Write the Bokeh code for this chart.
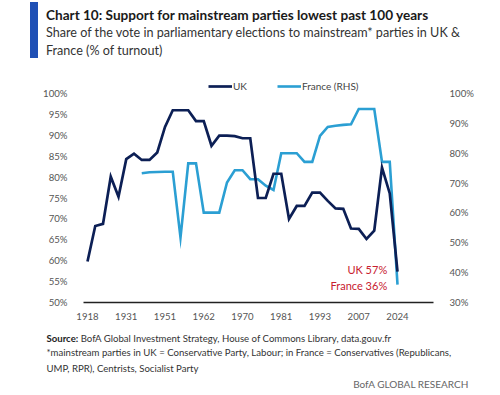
from bokeh.plotting import figure
from bokeh.models import (Range1d, LinearAxis, FixedTicker, Label, Legend, LegendItem,
                          ColumnDataSource, PrintfTickFormatter, Div)
from bokeh.layouts import column
from bokeh.embed import file_html
from bokeh.resources import INLINE

nan = float("nan")

# x-axis labels (every 5th election point)
tick_labels = ["1918", "1931", "1951", "1962", "1970", "1981", "1993", "2007", "2024"]

# UK mainstream share (% of turnout), left axis
uk_share = [59.8, 68.3, 68.8, 80.1, 75.3, 84.3, 85.6, 84.1, 84.1, 85.9,
            92.0, 96.0, 96.0, 96.0, 93.4, 93.4, 87.5, 89.9, 89.9, 89.8,
            89.3, 89.3, 75.0, 75.0, 80.8, 80.8, 70.0, 73.1, 73.1, 76.3,
            76.3, 74.3, 72.5, 72.4, 67.7, 67.6, 65.2, 67.2, 82.3, 76.1,
            57.4]

# France mainstream share (% of turnout), right axis
france_share = [nan, nan, nan, nan, nan, nan, nan, 73.3, 73.6, 73.7,
                73.8, 73.8, 51.8, 76.6, 76.6, 60.1, 60.1, 60.1, 70.2, 74.3,
                74.3, 71.3, 71.3, 69.1, 67.7, 80.0, 80.0, 80.0, 77.1, 77.1,
                85.8, 88.8, 89.2, 89.5, 89.7, 94.8, 94.8, 94.8, 77.1, 77.1,
                36.0]

left_ticks = [50, 55, 60, 65, 70, 75, 80, 85, 90, 95, 100]
right_ticks = [30, 40, 50, 60, 70, 80, 90, 100]

title = "Chart 10: Support for mainstream parties lowest past 100 years"
subtitle1 = "Share of the vote in parliamentary elections to mainstream* parties in UK &amp;"
subtitle2 = "France (% of turnout)"
source_txt = "BofA Global Investment Strategy, House of Commons Library, data.gouv.fr"
note1 = "*mainstream parties in UK = Conservative Party, Labour; in France = Conservatives (Republicans,"
note2 = "UMP, RPR), Centrists, Socialist Party"
brand = "BofA GLOBAL RESEARCH"

UK_COL = "#0c1f55"
FR_COL = "#2b9fd3"
RED = "#c8202f"
AXIS_TXT = "#555555"
FONT = "Lato"

n = len(uk_share)
src = ColumnDataSource(dict(i=list(range(n)), uk=uk_share, fr=france_share))

# ---------------- header ----------------
header_html = f"""
<div style="position:relative;width:500px;height:70px;font-family:{FONT};">
  <div style="position:absolute;left:30px;top:2px;width:7.5px;height:56px;background:#1f50b5;"></div>
  <div style="position:absolute;left:46px;top:6px;line-height:18px;font-size:13.6px;font-weight:bold;color:#1a1a1a;white-space:nowrap;">{title}</div>
  <div style="position:absolute;left:46px;top:24px;line-height:18px;font-size:12.6px;color:#333333;white-space:nowrap;">{subtitle1}</div>
  <div style="position:absolute;left:46px;top:42px;line-height:18px;font-size:12.6px;color:#333333;white-space:nowrap;">{subtitle2}</div>
</div>
"""
header = Div(text=header_html, width=500, height=70, margin=0)

# ---------------- chart ----------------
p = figure(width=500, height=255, output_backend="svg", toolbar_location=None,
           x_range=Range1d(-0.516, 44.645), y_range=Range1d(50, 103.59),
           min_border=0, min_border_left=83, min_border_right=67,
           min_border_top=8, min_border_bottom=23, margin=0)
p.extra_y_ranges = {"fr": Range1d(30, 105.02)}
p.outline_line_color = None
p.xgrid.visible = False
p.ygrid.visible = False
p.background_fill_color = "white"
p.border_fill_color = "white"

xa = p.xaxis[0]
tick_pos = [k * 5 for k in range(len(tick_labels))]
xa.ticker = FixedTicker(ticks=tick_pos)
xa.major_label_overrides = {t: lab for t, lab in zip(tick_pos, tick_labels)}
xa.axis_line_color = "#222222"
xa.axis_line_width = 1.3
xa.major_tick_line_color = None
xa.minor_tick_line_color = None
xa.major_label_standoff = 4
xa.major_label_text_font = FONT
xa.major_label_text_font_size = "9.6px"
xa.major_label_text_color = AXIS_TXT

ya = p.yaxis[0]
ya.ticker = FixedTicker(ticks=left_ticks)
ya.formatter = PrintfTickFormatter(format="%d%%")
ya.axis_line_color = None
ya.major_tick_line_color = None
ya.minor_tick_line_color = None
ya.major_label_standoff = 10
ya.major_label_text_font = FONT
ya.major_label_text_font_size = "9.6px"
ya.major_label_text_color = AXIS_TXT

ra = LinearAxis(y_range_name="fr", ticker=FixedTicker(ticks=right_ticks),
                formatter=PrintfTickFormatter(format="%d%%"))
ra.axis_line_color = None
ra.major_tick_line_color = None
ra.minor_tick_line_color = None
ra.major_label_standoff = 10
ra.major_label_text_font = FONT
ra.major_label_text_font_size = "9.6px"
ra.major_label_text_color = AXIS_TXT
p.add_layout(ra, "right")

r_fr = p.line("i", "fr", source=src, y_range_name="fr", line_color=FR_COL,
              line_width=2.6, line_join="miter")
r_uk = p.line("i", "uk", source=src, line_color=UK_COL, line_width=2.7,
              line_join="miter")

legend = Legend(items=[LegendItem(label="UK", renderers=[r_uk]),
                       LegendItem(label="France (RHS)", renderers=[r_fr])],
                orientation="horizontal", location=(125, 210))
legend.label_text_font = FONT
legend.label_text_font_size = "10px"
legend.label_text_color = "#444444"
legend.glyph_width = 24
legend.glyph_height = 12
legend.label_height = 12
legend.label_standoff = 1
legend.spacing = 24
legend.padding = 0
legend.margin = 0
legend.border_line_color = None
legend.background_fill_alpha = 0
p.add_layout(legend, "center")

for s, yy in (("UK 57%", 199), ("France 36%", 215)):
    p.add_layout(Label(x=386.7, y=yy, x_units="canvas", y_units="canvas", text=s,
                       text_font=FONT, text_font_size="11px", text_color=RED,
                       text_align="right", text_baseline="middle"))

# ---------------- footer ----------------
footer_html = f"""
<div style="position:relative;width:500px;height:70px;font-family:{FONT};font-size:9.6px;color:#333333;">
  <div style="position:absolute;left:46.5px;top:7px;line-height:14px;white-space:nowrap;"><b style="color:#222222;">Source:</b> {source_txt}</div>
  <div style="position:absolute;left:46.5px;top:21.3px;line-height:14px;white-space:nowrap;">{note1}</div>
  <div style="position:absolute;left:46.5px;top:37.3px;line-height:14px;white-space:nowrap;">{note2}</div>
  <div style="position:absolute;right:31.7px;top:52px;line-height:14px;white-space:nowrap;color:#666666;font-size:10px;">{brand}</div>
</div>
"""
footer = Div(text=footer_html, width=500, height=70, margin=0)

layout = column(header, p, footer, spacing=0, margin=0)
open("out.html", "w").write(file_html(layout, INLINE))
